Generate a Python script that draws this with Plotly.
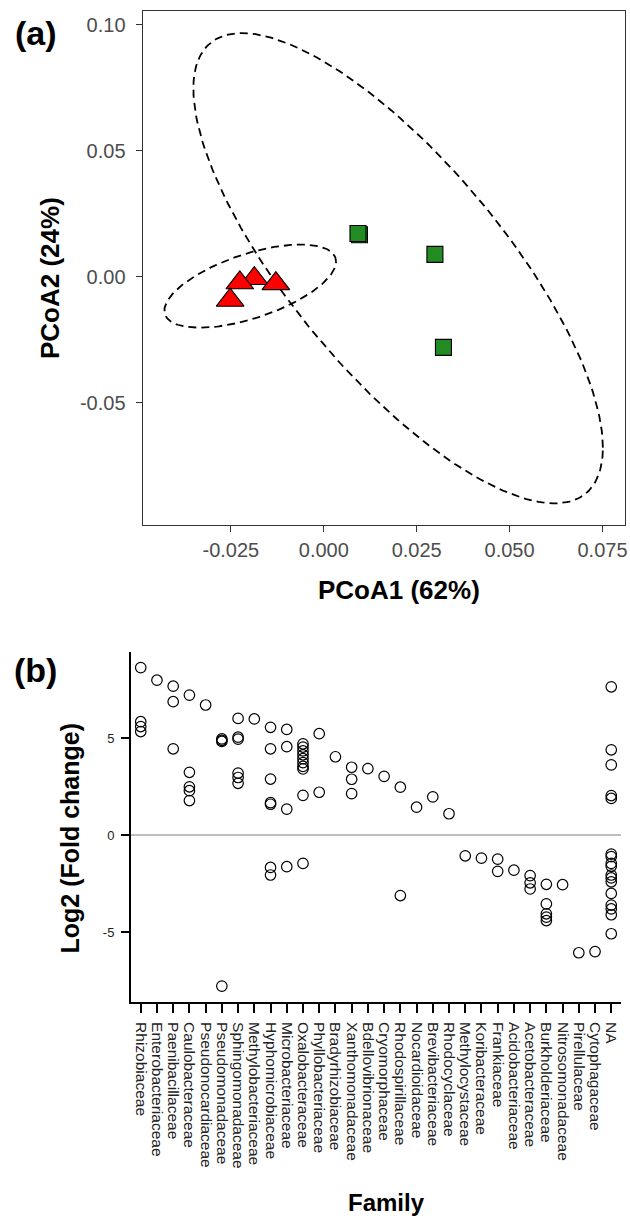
import numpy as np
import plotly.graph_objects as go

# ---------------- Panel (a) data : PCoA ----------------
tri_x = [-0.0187, -0.0226, -0.0129, -0.0252]
tri_y = [-0.0007, -0.0024, -0.0027, -0.0093]
sq_x = [0.0096, 0.0092, 0.0299, 0.0322]
sq_y = [0.0167, 0.0172, 0.0089, -0.0280]

# 95% ellipses (center, conjugate semi-diameters)
ell_cx = [-0.0198, 0.0200]
ell_cy = [-0.0037, 0.0034]
ell_ux = [0.0231, 0.0551]
ell_uy = [0.0097, -0.0712]
ell_h = [0.01335, 0.0603]

a_xticks = [-0.025, 0.0, 0.025, 0.05, 0.075]
a_xticklabels = ["-0.025", "0.000", "0.025", "0.050", "0.075"]
a_yticks = [-0.05, 0.0, 0.05, 0.10]
a_yticklabels = ["-0.05", "0.00", "0.05", "0.10"]

# ---------------- Panel (b) data : Log2 fold change per family ----------------
families = ["Rhizobiaceae", "Enterobacteriaceae", "Paenibacillaceae", "Caulobacteraceae",
            "Pseudonocardiaceae", "Pseudomonadaceae", "Sphingomonadaceae", "Methylobacteriaceae",
            "Hyphomicrobiaceae", "Microbacteriaceae", "Oxalobacteraceae", "Phyllobacteriaceae",
            "Bradyrhizobiaceae", "Xanthomonadaceae", "Bdellovibrionaceae", "Cryomorphaceae",
            "Rhodospirillaceae", "Nocardioidaceae", "Brevibacteriaceae", "Rhodocyclaceae",
            "Methylocystaceae", "Koribacteraceae", "Frankiaceae", "Acidobacteriaceae",
            "Acetobacteraceae", "Burkholderiaceae", "Nitrosomonadaceae", "Pirellulaceae",
            "Cytophagaceae", "NA"]
log2fc = [
    [8.65, 5.86, 5.61, 5.35],
    [8.0],
    [7.69, 6.89, 4.46],
    [7.23, 3.25, 2.5, 2.3, 1.79],
    [6.72],
    [4.97, 4.9, 4.84, -7.78],
    [6.03, 5.06, 4.96, 3.21, 2.98, 2.68],
    [6.0],
    [5.57, 4.46, 2.9, 1.68, 1.6, -1.66, -2.05],
    [5.46, 4.57, 1.35, -1.62],
    [4.72, 4.55, 4.35, 4.15, 3.95, 3.75, 3.55, 3.42, 2.06, -1.45],
    [5.24, 2.22],
    [4.05],
    [3.51, 2.89, 2.15],
    [3.44],
    [3.04],
    [2.48, -3.11],
    [1.45],
    [1.98],
    [1.11],
    [-1.06],
    [-1.18],
    [-1.23, -1.86],
    [-1.8],
    [-2.08, -2.45, -2.77],
    [-2.53, -3.54, -4.05, -4.22, -4.4],
    [-2.55],
    [-6.06],
    [-6.0],
    [7.66, 4.41, 3.63, 2.05, 1.9, -0.97, -1.1, -1.45, -1.6, -2.05, -2.2, -2.4, -3.0, -3.6, -3.8, -4.1, -5.08],
]
b_yticks = [-5, 0, 5]
b_yticklabels = ["-5", "0", "5"]

FONT = "Liberation Sans, Arial, sans-serif"
W, H = 630, 1218

fig = go.Figure()

# ellipses
t = np.linspace(0, 2 * np.pi, 240)
for cx, cy, ux, uy, h in zip(ell_cx, ell_cy, ell_ux, ell_uy, ell_h):
    fig.add_trace(go.Scatter(
        x=cx + ux * np.cos(t), y=cy + uy * np.cos(t) + h * np.sin(t),
        mode="lines", line=dict(color="black", width=1.8, dash="8px,5px"),
        hoverinfo="skip", showlegend=False, xaxis="x", yaxis="y"))

fig.add_trace(go.Scatter(
    x=sq_x, y=sq_y, mode="markers", showlegend=False, xaxis="x", yaxis="y",
    marker=dict(symbol="square", size=16, color="#228B22", line=dict(color="black", width=1.1))))
fig.add_trace(go.Scatter(
    x=tri_x, y=tri_y, mode="markers", showlegend=False, xaxis="x", yaxis="y",
    marker=dict(symbol="triangle-up", size=24, color="#FF0000", line=dict(color="black", width=1.1))))

# panel b points
bx, by = [], []
for fam, vals in zip(families, log2fc):
    for v in vals:
        bx.append(fam)
        by.append(v)
fig.add_trace(go.Scatter(
    x=bx, y=by, mode="markers", showlegend=False, xaxis="x2", yaxis="y2",
    marker=dict(symbol="circle", size=10.5, color="rgba(0,0,0,0)", line=dict(color="black", width=1.2))))

def px_x(p):
    return p / W

def px_y(p):
    return 1 - p / H

fig.update_layout(
    width=W, height=H,
    margin=dict(l=0, r=0, t=0, b=0),
    paper_bgcolor="white", plot_bgcolor="white",
    font=dict(family=FONT, color="black"),
    xaxis=dict(domain=[px_x(142.6), px_x(624.8)], range=[-0.04876, 0.0810], anchor="y",
               showline=True, mirror=True, linecolor="#333333", linewidth=1.1,
               ticks="outside", ticklen=6, tickwidth=1.1, tickcolor="#333333",
               tickvals=a_xticks, ticktext=a_xticklabels, ticklabelstandoff=1,
               tickfont=dict(size=20, color="#4D4D4D", family=FONT),
               showgrid=False, zeroline=False, automargin=False),
    yaxis=dict(domain=[px_y(524.5), px_y(10.9)], range=[-0.0983, 0.1055], anchor="x",
               showline=True, mirror=True, linecolor="#333333", linewidth=1.1,
               ticks="outside", ticklen=6, tickwidth=1.1, tickcolor="#333333",
               tickvals=a_yticks, ticktext=a_yticklabels, ticklabelstandoff=6,
               tickfont=dict(size=20, color="#4D4D4D", family=FONT),
               showgrid=False, zeroline=False, automargin=False),
    xaxis2=dict(domain=[px_x(131), px_x(621)], type="category", categoryorder="array",
                categoryarray=families, range=[-0.6, 29.6], anchor="y2",
                tickmode="linear", tick0=0, dtick=1,
                showline=True, linecolor="black", linewidth=2,
                ticks="outside", ticklen=9, tickwidth=2, tickcolor="black",
                tickangle=90, ticklabelstandoff=6,
                tickfont=dict(size=15.5, color="#222222", family=FONT),
                showgrid=False, zeroline=False, automargin=False),
    yaxis2=dict(domain=[px_y(1002), px_y(651.7)], range=[-8.6, 9.47], anchor="x2",
                showline=True, linecolor="black", linewidth=2,
                ticks="outside", ticklen=8, tickwidth=2, tickcolor="black",
                tickvals=b_yticks, ticktext=b_yticklabels, ticklabelstandoff=4,
                tickfont=dict(size=13, color="#222222", family=FONT),
                showgrid=False, zeroline=True, zerolinecolor="#BEBEBE", zerolinewidth=2,
                automargin=False),
)

def ann(text, x, y, size, angle=0):
    fig.add_annotation(text=text, x=px_x(x), y=px_y(y), xref="paper", yref="paper",
                       showarrow=False, textangle=angle, xanchor="center", yanchor="middle",
                       font=dict(family=FONT, size=size, color="black"))

ann("<b>(a)</b>", 36, 33, 34)
ann("<b>PCoA2 (24%)</b>", 50, 278, 26, -90)
ann("<b>PCoA1 (62%)</b>", 399, 590, 26)
ann("<b>(b)</b>", 35, 670, 34)
ann("<b>Log2 (Fold change)</b>", 69.5, 838, 25, -90)
ann("<b>Family</b>", 386, 1202, 24)

fig.write_html(
    "out.html",
    config={"displayModeBar": False},
    post_script="document.body.style.margin='0';document.body.style.overflow='hidden';",
)
